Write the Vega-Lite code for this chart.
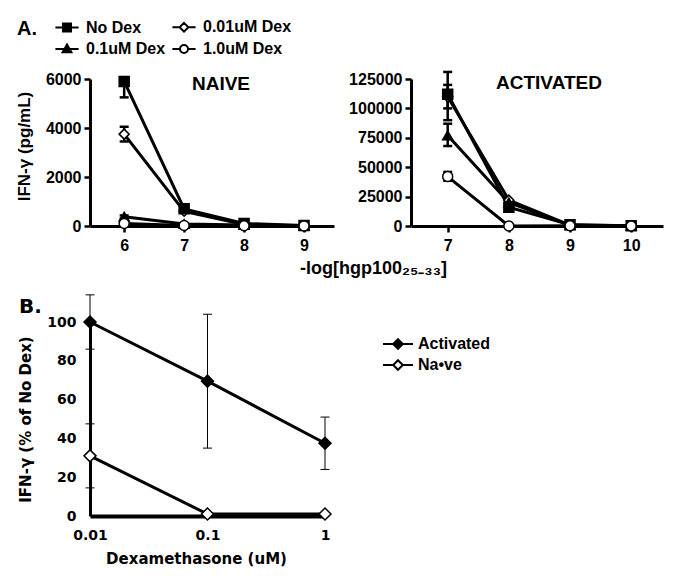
{
  "$schema": "https://vega.github.io/schema/vega-lite/v6.json",
  "background": "white",
  "padding": {"left": 15, "top": 19, "right": 5, "bottom": 5},
  "config": {
    "font": "Liberation Sans",
    "view": {"stroke": null},
    "axis": {"grid": false, "domainColor": "black", "domainWidth": 3, "tickColor": "black", "tickWidth": 2.5, "tickSize": 6, "labelColor": "black", "labelFont": "Liberation Sans", "labelFontWeight": "bold", "labelFontSize": 16, "titleFont": "Liberation Sans", "titleFontWeight": "bold", "titleFontSize": 17, "titleColor": "black", "labelFlush": false, "labelOverlap": false},
    "legend": {"orient": "none", "padding": 0, "labelFont": "Liberation Sans", "labelFontSize": 16, "labelFontWeight": "bold", "labelColor": "black", "titleColor": "black", "titleFont": "Liberation Sans", "titleFontWeight": "bold", "symbolStrokeWidth": 2, "symbolSize": 64},
    "title": {"color": "black", "font": "Liberation Sans", "fontWeight": "bold"}
  },
  "datasets": {
    "naive": [
      {"logc": 6, "series": "0.01uM Dex", "ifn": 3750}, {"logc": 7, "series": "0.01uM Dex", "ifn": 600}, {"logc": 8, "series": "0.01uM Dex", "ifn": 60}, {"logc": 9, "series": "0.01uM Dex", "ifn": 10},
      {"logc": 6, "series": "0.1uM Dex", "ifn": 380}, {"logc": 7, "series": "0.1uM Dex", "ifn": 80}, {"logc": 8, "series": "0.1uM Dex", "ifn": 40}, {"logc": 9, "series": "0.1uM Dex", "ifn": 5},
      {"logc": 6, "series": "No Dex", "ifn": 5900}, {"logc": 7, "series": "No Dex", "ifn": 700}, {"logc": 8, "series": "No Dex", "ifn": 100}, {"logc": 9, "series": "No Dex", "ifn": 20},
      {"logc": 6, "series": "1.0uM Dex", "ifn": 100}, {"logc": 7, "series": "1.0uM Dex", "ifn": 20}, {"logc": 8, "series": "1.0uM Dex", "ifn": 10}, {"logc": 9, "series": "1.0uM Dex", "ifn": 5}
    ],
    "naiveErr": [
      {"logc": 6, "series": "No Dex", "lo": 5250, "hi": 6050},
      {"logc": 6, "series": "0.01uM Dex", "lo": 3450, "hi": 4050},
      {"logc": 6, "series": "0.1uM Dex", "lo": 300, "hi": 430}
    ],
    "act": [
      {"logc": 7, "series": "0.01uM Dex", "ifn": 110000}, {"logc": 8, "series": "0.01uM Dex", "ifn": 22000}, {"logc": 9, "series": "0.01uM Dex", "ifn": 800}, {"logc": 10, "series": "0.01uM Dex", "ifn": 200},
      {"logc": 7, "series": "0.1uM Dex", "ifn": 77000}, {"logc": 8, "series": "0.1uM Dex", "ifn": 20000}, {"logc": 9, "series": "0.1uM Dex", "ifn": 600}, {"logc": 10, "series": "0.1uM Dex", "ifn": 100},
      {"logc": 7, "series": "No Dex", "ifn": 112000}, {"logc": 8, "series": "No Dex", "ifn": 16000}, {"logc": 9, "series": "No Dex", "ifn": 1000}, {"logc": 10, "series": "No Dex", "ifn": 200},
      {"logc": 7, "series": "1.0uM Dex", "ifn": 42000}, {"logc": 8, "series": "1.0uM Dex", "ifn": 0}, {"logc": 9, "series": "1.0uM Dex", "ifn": 200}, {"logc": 10, "series": "1.0uM Dex", "ifn": 100}
    ],
    "actErr": [
      {"logc": 7, "series": "No Dex", "lo": 90000, "hi": 131000},
      {"logc": 7, "series": "0.01uM Dex", "lo": 100000, "hi": 120000},
      {"logc": 7, "series": "0.1uM Dex", "lo": 68000, "hi": 87000},
      {"logc": 7, "series": "1.0uM Dex", "lo": 38500, "hi": 46000}
    ],
    "pct": [
      {"dex": 0.01, "cell": "Activated", "pct": 100}, {"dex": 0.1, "cell": "Activated", "pct": 69.5}, {"dex": 1, "cell": "Activated", "pct": 37.5},
      {"dex": 0.01, "cell": "Na•ve", "pct": 31}, {"dex": 0.1, "cell": "Na•ve", "pct": 1}, {"dex": 1, "cell": "Na•ve", "pct": 1}
    ],
    "pctErr": [
      {"dex": 0.01, "cell": "Activated", "lo": 86, "hi": 114},
      {"dex": 0.1, "cell": "Activated", "lo": 35, "hi": 104},
      {"dex": 1, "cell": "Activated", "lo": 24, "hi": 51},
      {"dex": 0.01, "cell": "Na•ve", "lo": 14.5, "hi": 47.5}
    ]
  },
  "resolve": {"scale": {"shape": "independent", "fill": "independent"}, "legend": {"shape": "independent", "fill": "independent"}},
  "bounds": "flush",
  "spacing": 243,
  "vconcat": [
    {
      "bounds": "flush",
      "spacing": 77,
      "resolve": {"scale": {"x": "independent", "y": "independent", "shape": "independent", "fill": "independent"}, "legend": {"shape": "independent", "fill": "independent"}},
      "hconcat": [
        {
          "width": 244,
          "height": 147,
          "title": {"text": "NAIVE", "fontSize": 19, "anchor": "middle", "frame": "group", "dx": 9, "offset": -84, "baseline": "middle"},
          "resolve": {"scale": {"shape": "independent", "fill": "independent"}, "legend": {"shape": "independent", "fill": "independent"}},
          "layer": [
            {
              "data": {"name": "naive"},
              "mark": {"type": "line", "color": "black", "strokeWidth": 3},
              "encoding": {
                "x": {"field": "logc", "type": "quantitative", "scale": {"domain": [5.43, 9.5], "nice": false, "zero": false}, "axis": {"values": [6, 7, 8, 9], "tickCount": 10, "format": "d", "labelOverlap": false, "labelPadding": 5, "title": "-log[hgp100₂₅₋₃₃]", "titleX": 283, "titleY": 42, "titleBaseline": "middle", "titleAlign": "center", "titleFontSize": 18}},
                "y": {"field": "ifn", "type": "quantitative", "scale": {"domain": [0, 6000], "nice": false}, "axis": {"values": [0, 2000, 4000, 6000], "tickCount": 10, "format": "d", "labelOverlap": false, "labelPadding": 3, "title": "IFN-γ (pg/mL)", "titleX": -66, "titleY": 67, "titleAngle": 270, "titleBaseline": "middle", "titleAlign": "center"}},
                "detail": {"field": "series"}
              }
            },
            {
              "data": {"name": "naiveErr"},
              "mark": {"type": "rule", "color": "black", "strokeWidth": 2.5},
              "encoding": {"x": {"field": "logc", "type": "quantitative", "axis": {"values": [6, 7, 8, 9], "tickCount": 10, "format": "d", "labelOverlap": false}}, "y": {"field": "lo", "type": "quantitative", "axis": {"values": [0, 2000, 4000, 6000], "tickCount": 10, "format": "d", "labelOverlap": false}}, "y2": {"field": "hi"}}
            },
            {
              "data": {"name": "naiveErr"},
              "mark": {"type": "tick", "orient": "horizontal", "color": "black", "size": 9, "thickness": 2.5, "opacity": 1},
              "encoding": {"x": {"field": "logc", "type": "quantitative", "axis": {"values": [6, 7, 8, 9], "tickCount": 10, "format": "d", "labelOverlap": false}}, "y": {"field": "lo", "type": "quantitative", "axis": {"values": [0, 2000, 4000, 6000], "tickCount": 10, "format": "d", "labelOverlap": false}}}
            },
            {
              "data": {"name": "naiveErr"},
              "mark": {"type": "tick", "orient": "horizontal", "color": "black", "size": 9, "thickness": 2.5, "opacity": 1},
              "encoding": {"x": {"field": "logc", "type": "quantitative", "axis": {"values": [6, 7, 8, 9], "tickCount": 10, "format": "d", "labelOverlap": false}}, "y": {"field": "hi", "type": "quantitative", "axis": {"values": [0, 2000, 4000, 6000], "tickCount": 10, "format": "d", "labelOverlap": false}}}
            },
            {
              "data": {"name": "naive"},
              "mark": {"type": "point", "filled": true, "stroke": "black", "strokeWidth": 1.5, "size": 100, "opacity": 1},
              "encoding": {
                "x": {"field": "logc", "type": "quantitative"},
                "y": {"field": "ifn", "type": "quantitative"},
                "shape": {"field": "series", "type": "nominal", "scale": {"domain": ["No Dex", "0.01uM Dex", "0.1uM Dex", "1.0uM Dex"], "range": ["square", "diamond", "triangle-up", "circle"]}, "legend": null},
                "fill": {"field": "series", "type": "nominal", "scale": {"domain": ["No Dex", "0.01uM Dex", "0.1uM Dex", "1.0uM Dex"], "range": ["black", "white", "black", "white"]}, "legend": null}
              }
            },
            {
              "data": {"name": "naive"},
              "transform": [{"filter": "datum.ifn < 0"}],
              "mark": {"type": "point", "filled": true, "stroke": "black", "strokeWidth": 2, "size": 64, "opacity": 1},
              "encoding": {
                "x": {"field": "logc", "type": "quantitative"},
                "y": {"field": "ifn", "type": "quantitative"},
                "shape": {"field": "series", "type": "nominal",
                  "scale": {"domain": ["No Dex", "0.01uM Dex", "0.1uM Dex", "1.0uM Dex"], "range": ["M-2.9,0H2.9M-1,-1H1V1H-1Z", "M-2.9,0H-1.1M1.1,0H2.9M0,-1.1L1.1,0L0,1.1L-1.1,0Z", "M-2.9,0H2.9M0,-1.1L1.1,0.8H-1.1Z", "M-2.9,0H-1M1,0H2.9M1,0A1,1,0,1,1,-1,0A1,1,0,1,1,1,0Z"]},
                  "legend": {"title": "A.", "titleOrient": "left", "titleAnchor": "start", "titleBaseline": "top", "titleFontSize": 20, "titlePadding": 22, "direction": "horizontal", "columns": 2, "columnPadding": 2, "rowPadding": 4, "labelOffset": 11, "symbolSize": 64, "legendX": -73, "legendY": -60}},
                "fill": {"field": "series", "type": "nominal", "scale": {"domain": ["No Dex", "0.01uM Dex", "0.1uM Dex", "1.0uM Dex"], "range": ["black", "white", "black", "white"]},
                  "legend": {"title": "A.", "titleOrient": "left", "titleAnchor": "start", "titleBaseline": "top", "titleFontSize": 20, "titlePadding": 22, "direction": "horizontal", "columns": 2, "columnPadding": 2, "rowPadding": 4, "labelOffset": 11, "symbolSize": 64, "legendX": -73, "legendY": -60}}
              }
            }
          ]
        },
        {
          "width": 252,
          "height": 147,
          "title": {"text": "ACTIVATED", "fontSize": 19, "anchor": "middle", "frame": "group", "dx": 12, "offset": -31, "baseline": "middle"},
          "layer": [
            {
              "data": {"name": "act"},
              "mark": {"type": "line", "color": "black", "strokeWidth": 3},
              "encoding": {
                "x": {"field": "logc", "type": "quantitative", "scale": {"domain": [6.4, 10.52], "nice": false, "zero": false}, "axis": {"values": [7, 8, 9, 10], "tickCount": 10, "format": "d", "labelOverlap": false, "labelPadding": 5, "title": null}},
                "y": {"field": "ifn", "type": "quantitative", "scale": {"domain": [0, 125000], "nice": false}, "axis": {"values": [0, 25000, 50000, 75000, 100000, 125000], "tickCount": 10, "format": "d", "labelOverlap": false, "labelPadding": 3, "title": null}},
                "detail": {"field": "series"}
              }
            },
            {
              "data": {"name": "actErr"},
              "mark": {"type": "rule", "color": "black", "strokeWidth": 2.5},
              "encoding": {"x": {"field": "logc", "type": "quantitative", "axis": {"values": [7, 8, 9, 10], "tickCount": 10, "format": "d", "labelOverlap": false, "title": null}}, "y": {"field": "lo", "type": "quantitative", "axis": {"values": [0, 25000, 50000, 75000, 100000, 125000], "tickCount": 10, "format": "d", "labelOverlap": false, "title": null}}, "y2": {"field": "hi"}}
            },
            {
              "data": {"name": "actErr"},
              "mark": {"type": "tick", "orient": "horizontal", "color": "black", "size": 9, "thickness": 2.5, "opacity": 1},
              "encoding": {"x": {"field": "logc", "type": "quantitative", "axis": {"values": [7, 8, 9, 10], "tickCount": 10, "format": "d", "labelOverlap": false, "title": null}}, "y": {"field": "lo", "type": "quantitative", "axis": {"values": [0, 25000, 50000, 75000, 100000, 125000], "tickCount": 10, "format": "d", "labelOverlap": false, "title": null}}}
            },
            {
              "data": {"name": "actErr"},
              "mark": {"type": "tick", "orient": "horizontal", "color": "black", "size": 9, "thickness": 2.5, "opacity": 1},
              "encoding": {"x": {"field": "logc", "type": "quantitative", "axis": {"values": [7, 8, 9, 10], "tickCount": 10, "format": "d", "labelOverlap": false, "title": null}}, "y": {"field": "hi", "type": "quantitative", "axis": {"values": [0, 25000, 50000, 75000, 100000, 125000], "tickCount": 10, "format": "d", "labelOverlap": false, "title": null}}}
            },
            {
              "data": {"name": "act"},
              "mark": {"type": "point", "filled": true, "stroke": "black", "strokeWidth": 1.5, "size": 100, "opacity": 1},
              "encoding": {
                "x": {"field": "logc", "type": "quantitative"},
                "y": {"field": "ifn", "type": "quantitative"},
                "shape": {"field": "series", "type": "nominal", "scale": {"domain": ["No Dex", "0.01uM Dex", "0.1uM Dex", "1.0uM Dex"], "range": ["square", "diamond", "triangle-up", "circle"]}, "legend": null},
                "fill": {"field": "series", "type": "nominal", "scale": {"domain": ["No Dex", "0.01uM Dex", "0.1uM Dex", "1.0uM Dex"], "range": ["black", "white", "black", "white"]}, "legend": null}
              }
            }
          ]
        }
      ]
    },
    {
      "width": 235,
      "height": 194,
      "title": {"text": "B.", "anchor": "start", "frame": "group", "fontSize": 20, "font": "DejaVu Sans", "dx": -71, "offset": -33, "baseline": "middle"},
      "resolve": {"scale": {"shape": "independent", "fill": "independent"}, "legend": {"shape": "independent", "fill": "independent"}},
      "layer": [
        {
          "data": {"name": "pct"},
          "mark": {"type": "line", "color": "black", "strokeWidth": 3},
          "encoding": {
            "x": {"field": "dex", "type": "quantitative", "scale": {"type": "log", "domain": [0.01, 1], "nice": false}, "axis": {"values": [0.01, 0.1, 1], "tickCount": 10, "format": "~g", "labelOverlap": false, "ticks": false, "domainWidth": 4, "labelFont": "DejaVu Sans", "labelFontSize": 14, "labelPadding": 12, "title": "Dexamethasone (uM)", "titleFont": "DejaVu Sans", "titleFontSize": 15, "titleX": 106, "titleY": 42, "titleBaseline": "middle", "titleAlign": "center"}},
            "y": {"field": "pct", "type": "quantitative", "scale": {"domain": [0, 100], "nice": false}, "axis": {"values": [0, 20, 40, 60, 80, 100], "tickCount": 10, "labelOverlap": false, "ticks": false, "labelFont": "DejaVu Sans", "labelFontSize": 14, "labelPadding": 14, "title": "IFN-γ (% of No Dex)", "titleFont": "DejaVu Sans", "titleFontSize": 15, "titleX": -65, "titleY": 97, "titleAngle": 270, "titleBaseline": "middle", "titleAlign": "center"}},
            "detail": {"field": "cell"}
          }
        },
        {
          "data": {"name": "pctErr"},
          "mark": {"type": "rule", "color": "black", "strokeWidth": 1},
          "encoding": {"x": {"field": "dex", "type": "quantitative", "axis": {"values": [0.01, 0.1, 1], "tickCount": 10, "format": "~g", "labelOverlap": false}}, "y": {"field": "lo", "type": "quantitative", "axis": {"values": [0, 20, 40, 60, 80, 100], "tickCount": 10, "labelOverlap": false}}, "y2": {"field": "hi"}}
        },
        {
          "data": {"name": "pctErr"},
          "mark": {"type": "tick", "orient": "horizontal", "color": "black", "size": 9, "thickness": 1, "opacity": 1},
          "encoding": {"x": {"field": "dex", "type": "quantitative", "axis": {"values": [0.01, 0.1, 1], "tickCount": 10, "format": "~g", "labelOverlap": false}}, "y": {"field": "lo", "type": "quantitative", "axis": {"values": [0, 20, 40, 60, 80, 100], "tickCount": 10, "labelOverlap": false}}}
        },
        {
          "data": {"name": "pctErr"},
          "mark": {"type": "tick", "orient": "horizontal", "color": "black", "size": 9, "thickness": 1, "opacity": 1},
          "encoding": {"x": {"field": "dex", "type": "quantitative", "axis": {"values": [0.01, 0.1, 1], "tickCount": 10, "format": "~g", "labelOverlap": false}}, "y": {"field": "hi", "type": "quantitative", "axis": {"values": [0, 20, 40, 60, 80, 100], "tickCount": 10, "labelOverlap": false}}}
        },
        {
          "data": {"name": "pct"},
          "mark": {"type": "point", "shape": "diamond", "filled": true, "stroke": "black", "strokeWidth": 1.5, "size": 144, "opacity": 1},
          "encoding": {
            "x": {"field": "dex", "type": "quantitative"},
            "y": {"field": "pct", "type": "quantitative"},
            "fill": {"field": "cell", "type": "nominal", "scale": {"domain": ["Activated", "Na•ve"], "range": ["black", "white"]}, "legend": null}
          }
        },
        {
          "data": {"name": "pct"},
          "transform": [{"filter": "datum.pct < 0"}],
          "mark": {"type": "point", "filled": true, "stroke": "black", "strokeWidth": 2, "size": 64, "opacity": 1},
          "encoding": {
            "x": {"field": "dex", "type": "quantitative"},
            "y": {"field": "pct", "type": "quantitative"},
            "shape": {"field": "cell", "type": "nominal", "scale": {"domain": ["Activated", "Na•ve"], "range": ["M-3.75,0H3.75M0,-1.2L1.2,0L0,1.2L-1.2,0Z", "M-3.75,0H-1.2M1.2,0H3.75M0,-1.2L1.2,0L0,1.2L-1.2,0Z"]},
              "legend": {"title": null, "rowPadding": 3, "labelOffset": 12, "symbolSize": 64, "legendX": 300, "legendY": 14}},
            "fill": {"field": "cell", "type": "nominal", "scale": {"domain": ["Activated", "Na•ve"], "range": ["black", "white"]},
              "legend": {"title": null, "rowPadding": 3, "labelOffset": 12, "symbolSize": 64, "legendX": 300, "legendY": 14}}
          }
        }
      ]
    }
  ]
}
